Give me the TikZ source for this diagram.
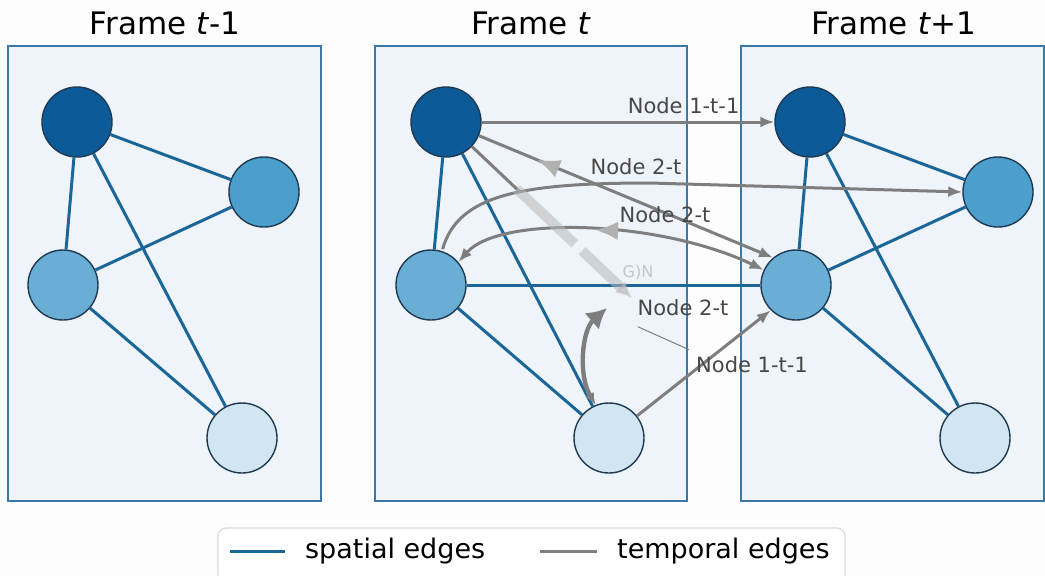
\documentclass[tikz,border=0pt]{standalone}
\usepackage{fontspec}
\setmainfont{DejaVu Sans}
\usetikzlibrary{arrows.meta,positioning,calc,decorations.markings}

\definecolor{nodeA}{HTML}{0C5A98}
\definecolor{nodeB}{HTML}{4C9FCC}
\definecolor{nodeC}{HTML}{6AAED5}
\definecolor{nodeD}{HTML}{D2E6F2}
\definecolor{spblue}{HTML}{1B6699}
\definecolor{tgray}{HTML}{7E7E7E}
\definecolor{framebg}{HTML}{EEF4F9}
\definecolor{frameline}{HTML}{3A78A8}
\definecolor{ringcol}{HTML}{1E3A52}
\definecolor{pagebg}{HTML}{FDFDFD}

\begin{document}
\begin{tikzpicture}[x=0.5pt, y=-0.5pt, >={Latex[length=7pt,width=5.5pt]}, semithick]
\tikzstyle{vertex}=[circle,draw=ringcol,line width=0.7pt,minimum size=35pt,inner sep=0pt]
\tikzstyle{spatial}=[draw=spblue,line width=1.5pt]
\tikzstyle{temporal}=[draw=tgray,line width=1.5pt,->]
\tikzstyle{frame}=[draw=frameline,line width=1pt,fill=framebg]
\tikzstyle{title}=[font=\fontsize{15.5}{18}\selectfont]
\tikzstyle{tlabel}=[font=\fontsize{10.5}{12}\selectfont,text=black!72]
\tikzstyle{lgtext}=[font=\fontsize{13.5}{16}\selectfont]
\tikzstyle{midback}=[postaction=decorate,decoration={markings,
    mark=at position #1 with {\arrow[tgray!60,scale=1.7]{<}}}]
\tikzstyle{midfwd}=[postaction=decorate,decoration={markings,
    mark=at position #1 with {\arrow[tgray!60,scale=1.7]{>}}}]

% page and the three frames
\fill[pagebg] (0,0) rectangle (1045,575);
\useasboundingbox (0,0) rectangle (1045,575);
\draw[frame] (8,46) rectangle (321,501);
\draw[frame] (375,46) rectangle (687,501);
\draw[frame] (741,46) rectangle (1044,501);
\node[title] (T1) at (165,23) {Frame \textit{t}-1};
\node[title] (T2) at (531,23) {Frame \textit{t}};
\node[title] (T3) at (894,23) {Frame \textit{t}+1};

% frame t-1
\node[vertex,fill=nodeA] (A1) at (77,122)  {};
\node[vertex,fill=nodeB] (B1) at (264,192) {};
\node[vertex,fill=nodeC] (C1) at (63,285)  {};
\node[vertex,fill=nodeD] (D1) at (242,438) {};
% frame t
\node[vertex,fill=nodeA] (A2) at (446,122) {};
\node[vertex,fill=nodeC] (C2) at (431,285) {};
\node[vertex,fill=nodeD] (D2) at (609,438) {};
% frame t+1
\node[vertex,fill=nodeA] (A3) at (810,122) {};
\node[vertex,fill=nodeB] (B3) at (998,192) {};
\node[vertex,fill=nodeC] (C3) at (796,285) {};
\node[vertex,fill=nodeD] (D3) at (975,438) {};

% spatial edges
\path[spatial]
(A1) edge (B1) edge (C1) edge (D1)
(C1) edge (B1) edge (D1)
(A2) edge (C2) edge (D2)
(C2) edge (D2) edge (C3)
(A3) edge (B3) edge (C3) edge (D3)
(C3) edge (B3) edge (D3);

% temporal edges
\draw[temporal] (A2) -- node[tlabel,above,pos=0.69] {Node 1-t-1} (A3);
\draw[temporal,midback=0.27] (A2) -- (C3.130);
\draw[temporal,shorten <=1pt] (C2.72) .. controls (458,195) and (520,183) .. (650,183)
    node[tlabel,above,xshift=-7pt] {Node 2-t} -- (B3.west);
\draw[temporal,<->,midfwd=0.55] (C3.155) .. controls (660,220) and (500,215) .. (C2.40);
\node[tlabel] (L1) at (665,215) {Node 2-t};
\draw[temporal] (D2) -- (C3.225);

% faded band
\coordinate (gan) at (632,298);
\draw[tgray,line width=1.5pt] (A2) -- ($(A2)!0.4!(gan)$);
\draw[tgray!55,opacity=0.55,line width=5pt,dash pattern=on 40pt off 5pt,
    -{Latex[length=8pt,width=8pt]}] ($(A2)!0.38!(gan)$) -- (gan);
\node[font=\fontsize{8}{9}\selectfont,text=gray!45] (gn) at (638,272) {G)N};

% labels with leader
\node[tlabel] (L2) at (683,308) {Node 2-t};
\node[tlabel] (L3) at (752,365) {Node 1-t-1};
\draw[tgray,line width=0.5pt,shorten <=4pt] (L2.south west) -- (L3.north west);

% loop arrow at the bottom node
\coordinate (lp) at (607,308);
\draw[tgray,line width=2.2pt,{Latex[length=6pt,width=5pt]}-{Latex[length=10pt,width=11pt]}]
    (D2.112) .. controls (578,375) and (582,330) .. (lp);

% legend
\draw[rounded corners=4pt,draw=gray!30,fill=white] (218,528) rectangle (845,590);
\coordinate (ls) at (230,551);
\coordinate (lt) at (540,551);
\draw[spatial] (ls) -- ++(55,0) node[right=6pt,lgtext] (lsp) {spatial edges};
\draw[draw=tgray,line width=1.5pt] (lt) -- ++(57,0) node[right=6pt,lgtext] (ltm) {temporal edges};
\end{tikzpicture}
\end{document}
